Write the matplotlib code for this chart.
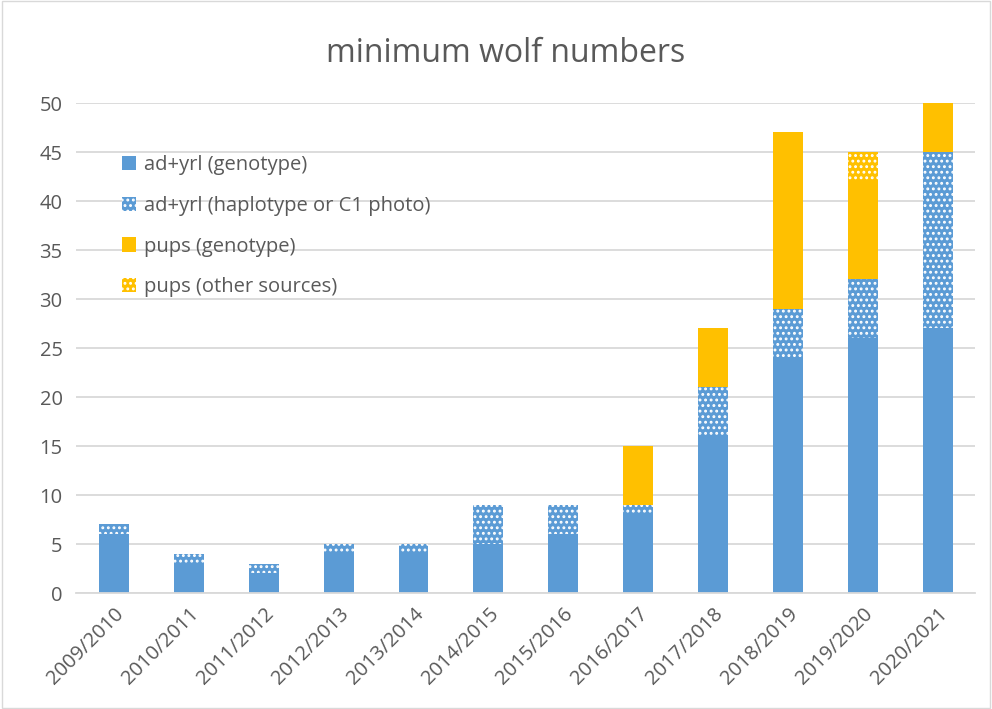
import matplotlib.pyplot as plt
import numpy as np
from matplotlib.patches import Rectangle

seasons = ['2009/2010', '2010/2011', '2011/2012', '2012/2013', '2013/2014',
           '2014/2015', '2015/2016', '2016/2017', '2017/2018', '2018/2019',
           '2019/2020', '2020/2021']
adult_geno = [6, 3, 2, 4, 4, 5, 6, 8, 16, 24, 26, 27]
adult_haplo = [1, 1, 1, 1, 1, 4, 3, 1, 5, 5, 6, 18]
pups_geno = [0, 0, 0, 0, 0, 0, 0, 6, 6, 18, 10, 5]
pups_other = [0, 0, 0, 0, 0, 0, 0, 0, 0, 0, 3, 0]
labels = ['ad+yrl (genotype)', 'ad+yrl (haplotype or C1 photo)',
          'pups (genotype)', 'pups (other sources)']

BLUE = '#5b9bd5'
GOLD = '#ffc000'
GREY = '#595959'

plt.rcParams['font.family'] = ['Open Sans', 'DejaVu Sans']
plt.rcParams['hatch.linewidth'] = 1.3

fig = plt.figure(figsize=(9.92, 7.09), dpi=100)
ax = fig.add_axes([0.0771, 0.1636, 0.906, 0.6911])

x = np.arange(len(seasons))
w = 0.4
series = [adult_geno, adult_haplo, pups_geno, pups_other]
colors = [BLUE, BLUE, GOLD, GOLD]
hatches = [None, '...', None, '...']
bottom = np.zeros(len(seasons))
for vals, col, hat, lab in zip(series, colors, hatches, labels):
    vals = np.array(vals, dtype=float)
    if hat:
        ax.bar(x, vals, w, bottom=bottom, color=col, hatch=hat,
               edgecolor='white', linewidth=0, label=lab)
    else:
        ax.bar(x, vals, w, bottom=bottom, color=col, linewidth=0, label=lab)
    bottom += vals

ax.set_ylim(0, 50)
ax.set_xlim(-0.5, len(seasons) - 0.5)
ax.set_yticks(range(0, 51, 5))
ax.set_xticks(x)
ax.set_xticklabels(seasons, rotation=45, ha='right', rotation_mode='anchor',
                   fontsize=14.5, color=GREY)
ax.tick_params(axis='y', labelsize=14.5, labelcolor=GREY, length=0, pad=10)
ax.tick_params(axis='x', length=0, pad=8)
ax.yaxis.grid(True, color='#d9d9d9', linewidth=1.3)
ax.set_axisbelow(True)
for s in ['top', 'right', 'left']:
    ax.spines[s].set_visible(False)
ax.spines['bottom'].set_color('#d9d9d9')
ax.spines['bottom'].set_linewidth(1.3)

fig.text(0.51, 0.925, 'minimum wolf numbers', ha='center', va='center',
         fontsize=23, color=GREY)

leg = ax.legend(loc='upper left', bbox_to_anchor=(0.03, 0.93), frameon=False,
                fontsize=14.5, handlelength=0.7, handleheight=0.7,
                handletextpad=0.4, labelspacing=1.02)
for t in leg.get_texts():
    t.set_color(GREY)

fig.patches.append(Rectangle((0.002, 0.002), 0.996, 0.996, transform=fig.transFigure,
                             fill=False, edgecolor='#d9d9d9', linewidth=1))

fig.savefig('out.png', dpi=100)
